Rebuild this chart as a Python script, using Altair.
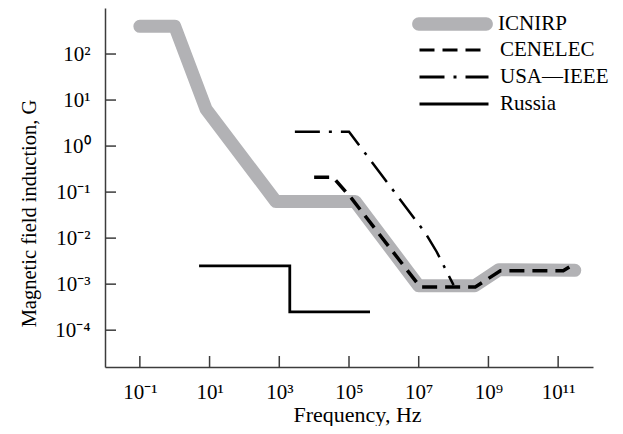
import altair as alt
import pandas as pd

series_names = ["ICNIRP", "CENELEC", "USA—IEEE", "Russia"]

icnirp_f = [0.1, 1, 8, 800, 1.5e5, 1e7, 4e8, 2e9, 3e11]
icnirp_b = [400, 400, 6.25, 0.0625, 0.0625, 9.2e-4, 9.2e-4, 2.06e-3, 2.0e-3]

cenelec_f = [1e4, 3.5e4, 1.2e5, 1.1e7, 4.2e8, 2.2e9, 1.4e11, 3e11]
cenelec_b = [0.21, 0.21, 0.072, 8.7e-4, 8.7e-4, 1.95e-3, 1.95e-3, 2.8e-3]

ieee_f = [2.8e3, 1e5, 1.6e7, 3.3e7, 1e8]
ieee_b = [2.05, 2.05, 0.0125, 5.0e-3, 9.5e-4]

russia_f = [5, 2e3, 2e3, 4e5]
russia_b = [2.5e-3, 2.5e-3, 2.5e-4, 2.5e-4]

x_tick_exps = [-1, 1, 3, 5, 7, 9, 11]
y_tick_exps = [-4, -3, -2, -1, 0, 1, 2]

GRAY = "#b2b2b5"
black_names = series_names[1:]
black_dashes = [[15, 8], [25, 9, 3, 9], [1, 0]]
black_widths = [3.5, 2.5, 2.8]

W, H = 488, 359
FONT = "Liberation Serif"

rows = []
for name, fs, bs in zip(series_names, [icnirp_f, cenelec_f, ieee_f, russia_f],
                        [icnirp_b, cenelec_b, ieee_b, russia_b]):
    for i, (f, b) in enumerate(zip(fs, bs)):
        rows.append({"series": name, "f": f, "b": b, "idx": i})
df = pd.DataFrame(rows)

sup = str.maketrans("-0123456789", "⁻⁰¹²³⁴⁵⁶⁷⁸⁹")


def label_expr(exps):
    expr = "''"
    for e in sorted(exps):
        expr = f"datum.value > {10 ** (e - 0.5)} ? '10{str(e).translate(sup)}' : " + expr
    return expr


xscale = alt.Scale(type="log", domain=[1e-2, 1e12], nice=False)
yscale = alt.Scale(type="log", domain=[10 ** -4.8, 1e3], nice=False)

xaxis = alt.Axis(values=[10 ** e for e in x_tick_exps], labelExpr=label_expr(x_tick_exps),
                 ticks=False, tickSize=0, grid=False, labelPadding=14, labelFontSize=21,
                 labelFont=FONT, labelColor="black", title="Frequency, Hz", titleFont=FONT,
                 titleFontSize=22, titleFontWeight="normal", titleColor="black",
                 titleX=252, titleY=54, titleBaseline="alphabetic", titleAnchor="middle")
yaxis = alt.Axis(values=[10 ** e for e in y_tick_exps], labelExpr=label_expr(y_tick_exps),
                 ticks=False, tickSize=0, grid=False, labelPadding=15, labelFontSize=21,
                 labelFont=FONT, labelColor="black", title="Magnetic field induction, G",
                 titleFont=FONT, titleFontSize=20.5, titleFontWeight="normal", titleColor="black",
                 titleX=-76, titleY=205, titleBaseline="middle", titleAnchor="middle",
                 titleAngle=270)

X = alt.X("f:Q", scale=xscale, axis=xaxis)
Y = alt.Y("b:Q", scale=yscale, axis=yaxis)

capsule = "M-0.83,-0.167L0.83,-0.167A0.167,0.167 0 0 1 0.83,0.167L-0.83,0.167A0.167,0.167 0 0 1 -0.83,-0.167Z"
legend_a = alt.Legend(
    title=None, orient="none", legendX=307, legendY=6, symbolType=capsule,
    symbolSize=81 * 81, symbolFillColor=GRAY, symbolStrokeWidth=0, clipHeight=20,
    labelFont=FONT, labelFontSize=21, labelColor="black", labelOffset=5, padding=0,
)
legend_b = alt.Legend(
    title=None, orient="none", legendX=313, legendY=32, symbolType="stroke",
    symbolSize=69 * 69, symbolStrokeWidth=3, symbolStrokeColor="black", clipHeight=20,
    labelFont=FONT, labelFontSize=21, labelColor="black", labelOffset=10,
    rowPadding=6, padding=0,
)

base = alt.Chart(df)
gray = base.transform_filter(alt.datum.series == "ICNIRP").mark_line(
    strokeCap="round", strokeJoin="round", strokeWidth=13).encode(
    x=X, y=Y, order="idx:Q",
    color=alt.Color("series:N", scale=alt.Scale(domain=["ICNIRP"], range=[GRAY]), legend=legend_a),
)
dash_scale = alt.Scale(domain=black_names, range=black_dashes)
blacks = []
for name, w in zip(black_names, black_widths):
    blacks.append(base.transform_filter(alt.datum.series == name).mark_line(
        strokeCap="butt", strokeJoin="miter", strokeWidth=w, color="black").encode(
        x=X, y=Y, order="idx:Q",
        strokeDash=alt.StrokeDash("series:N", scale=dash_scale, legend=legend_b,
                                  sort=black_names),
    ))

xt = pd.DataFrame({"v": [10 ** e for e in x_tick_exps]})
yt = pd.DataFrame({"v": [10 ** e for e in y_tick_exps]})
xticks = alt.Chart(xt).mark_rule(color="#3c3c3c", strokeWidth=1.5).encode(
    x=alt.X("v:Q", scale=xscale, axis=xaxis), y=alt.value(H), y2=alt.value(H - 11))
yticks = alt.Chart(yt).mark_rule(color="#3c3c3c", strokeWidth=1.5).encode(
    y=alt.Y("v:Q", scale=yscale, axis=yaxis), x=alt.value(0), x2=alt.value(11))

chart = alt.layer(gray, *blacks, xticks, yticks).properties(
    width=W, height=H, autosize=alt.AutoSizeParams(type="none"),
    padding={"left": 97, "top": 0, "right": 22, "bottom": 59},
).configure_view(stroke=None).configure_axis(domainColor="#3c3c3c", domainWidth=1.5)

chart.save("out.html", embed_options={"renderer": "svg", "actions": False})
